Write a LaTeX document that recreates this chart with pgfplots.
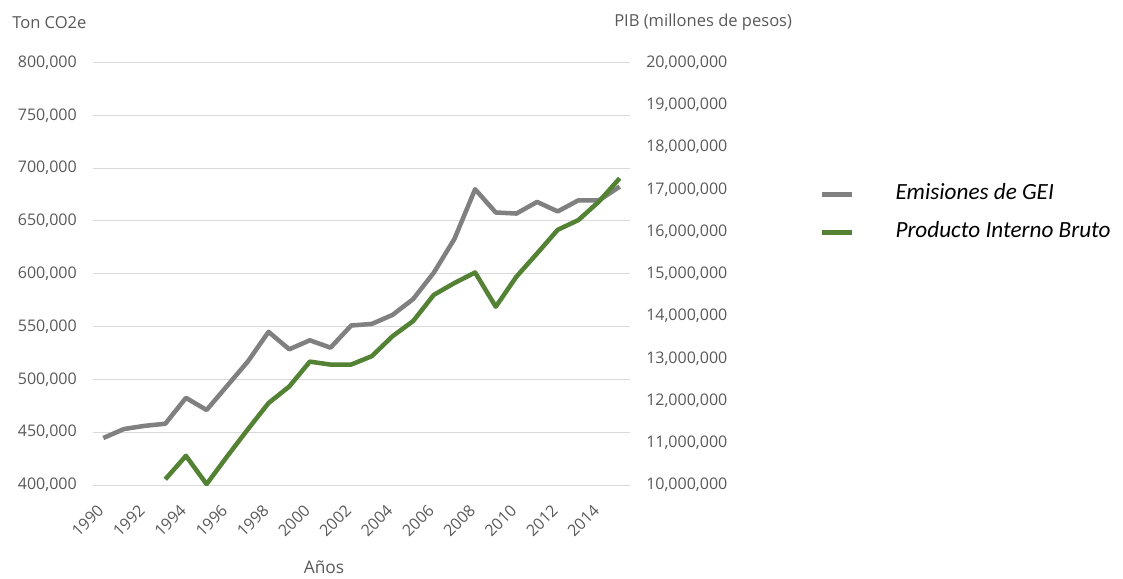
\documentclass[border=0pt]{standalone}
\usepackage{fontspec}
\setmainfont{Open Sans}
\newfontfamily\calibri{Carlito}
\usepackage{pgfplots}
\pgfplotsset{compat=1.18}
\definecolor{geigray}{RGB}{128,128,128}
\definecolor{pibgreen}{RGB}{84,130,53}
\definecolor{gridgray}{RGB}{217,217,217}
\definecolor{labelgray}{RGB}{89,89,89}

\begin{document}
\begin{tikzpicture}[x=0.75pt,y=0.75pt]
\useasboundingbox (0,0) rectangle (1123,578);
\pgfplotsset{
  base/.style={
    scale only axis, width=402.75pt, height=316.875pt,
    at={(69.75pt,69.75pt)}, anchor=south west,
    xmin=1989.5, xmax=2015.5,
    axis line style={draw=none}, major tick length=0pt,
    tick label style={font=\fontsize{12}{14}\selectfont, text=labelgray},
    /pgf/number format/assume math mode=true,
    scaled y ticks=false,
    yticklabel style={/pgf/number format/fixed, /pgf/number format/precision=0, /pgf/number format/1000 sep={,}},
  }
}
\begin{axis}[base,
  ymin=400000, ymax=800000, ytick distance=50000,
  ymajorgrids, grid style={gridgray, line width=0.75pt},
  xtick={1990,1992,1994,1996,1998,2000,2002,2004,2006,2008,2010,2012,2014},
  xticklabels={1990,1992,1994,1996,1998,2000,2002,2004,2006,2008,2010,2012,2014},
  xticklabel style={yshift=-17pt, xshift=-2pt, rotate=45, anchor=east, inner sep=0pt},
  yticklabel style={anchor=east, inner sep=0pt, xshift=-12pt},
  legend style={at={(axis description cs:1.3538,0.6426)}, anchor=west, draw=none, fill=none,
    inner sep=0pt, outer sep=0pt, column sep=30.75pt,
    font=\calibri\itshape\fontsize{17.4}{20}\selectfont, row sep=12.5pt,
    nodes={inner sep=0pt, text height=12pt, text depth=4pt}},
  legend cell align=left,
  legend image code/.code={\draw[#1] (0pt,0pt) -- (22.5pt,0pt);},
]
\addplot[geigray, line width=3.4pt, line join=round] table {
1990 444500
1991 453000
1992 456000
1993 458000
1994 482500
1995 471000
1996 494000
1997 517000
1998 545000
1999 528500
2000 537000
2001 530000
2002 551000
2003 552500
2004 561000
2005 576000
2006 601000
2007 633000
2008 680000
2009 658000
2010 657000
2011 668000
2012 659000
2013 669500
2014 669500
2015 682500
};
\addlegendentry{Emisiones de GEI}
\addlegendimage{pibgreen, line width=3.4pt}
\addlegendentry{Producto Interno Bruto}
\end{axis}
\begin{axis}[base,
  axis x line=none, axis y line*=right,
  ymin=10000000, ymax=20000000, ytick distance=1000000,
  yticklabel style={anchor=west, inner sep=0pt, xshift=12pt},
]
\addplot[pibgreen, line width=3.4pt, line join=round] table {
1993 10135000
1994 10690000
1995 10020000
1996 10680000
1997 11320000
1998 11940000
1999 12330000
2000 12920000
2001 12850000
2002 12850000
2003 13050000
2004 13520000
2005 13880000
2006 14500000
2007 14780000
2008 15030000
2009 14220000
2010 14930000
2011 15480000
2012 16040000
2013 16270000
2014 16710000
2015 17260000
};
\end{axis}
\node[anchor=west, inner sep=0pt, font=\fontsize{12.4}{15}\selectfont, text=labelgray] at (12,555) {Ton CO2e};
\node[anchor=west, inner sep=0pt, font=\fontsize{12.4}{15}\selectfont, text=labelgray] at (614,556) {PIB (millones de pesos)};
\node[inner sep=0pt, font=\fontsize{13}{15}\selectfont, text=labelgray] at (324,11) {Años};
\end{tikzpicture}
\end{document}
